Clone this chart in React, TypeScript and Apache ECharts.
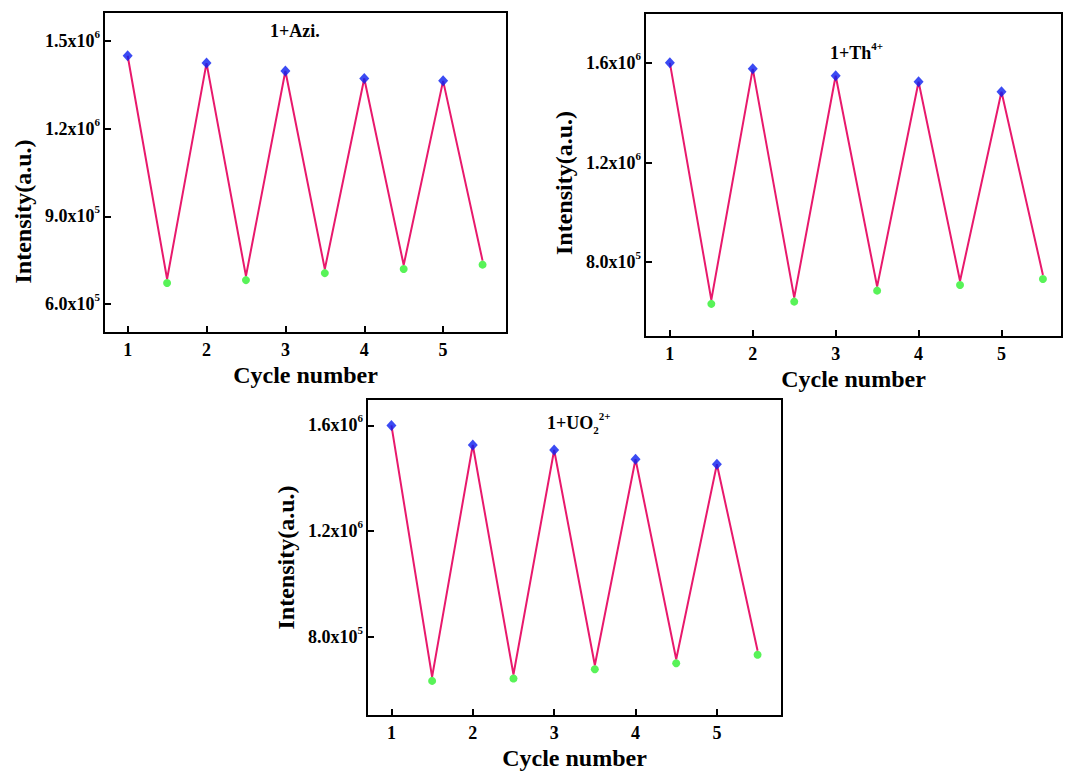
import React, { useEffect, useRef } from "react";
import * as echarts from "echarts";

const peakCycles = [1, 2, 3, 4, 5];
const troughCycles = [1.5, 2.5, 3.5, 4.5, 5.5];
const cycleTicks = [1, 2, 3, 4, 5];

const aziPeaks = [1.45e6, 1.425e6, 1.398e6, 1.372e6, 1.364e6];
const aziTroughs = [6.85e5, 6.95e5, 7.19e5, 7.33e5, 7.48e5];
const aziTicks = [6e5, 9e5, 1.2e6, 1.5e6];

const thPeaks = [1.6e6, 1.576e6, 1.548e6, 1.524e6, 1.484e6];
const thTroughs = [6.49e5, 6.58e5, 7.02e5, 7.25e5, 7.49e5];
const thTicks = [8e5, 1.2e6, 1.6e6];

const uoPeaks = [1.6e6, 1.526e6, 1.507e6, 1.472e6, 1.453e6];
const uoTroughs = [6.48e5, 6.57e5, 6.92e5, 7.15e5, 7.47e5];
const uoTicks = [8e5, 1.2e6, 1.6e6];

const FONT = "'Liberation Serif', 'Times New Roman', serif";
const LINE_COLOR = "#e8196c";
const PEAK_COLOR = "#0a1ef0";
const TROUGH_COLOR = "#2ef02e";

const supRich = {
  a: { fontFamily: FONT, fontWeight: "bold", fontSize: 18, color: "#000" },
  s: { fontFamily: FONT, fontWeight: "bold", fontSize: 11, color: "#000", padding: [0, 0, 14, 0] },
  b: { fontFamily: FONT, fontWeight: "bold", fontSize: 11, color: "#000", padding: [14, 0, 0, 0] },
};

function sciLabel(v: number) {
  const exp = Math.floor(Math.log10(v) + 1e-9);
  const mant = (v / Math.pow(10, exp)).toFixed(1);
  return "{a|" + mant + "x10}{s|" + exp + "}";
}

function interleave(peaks: number[], troughs: number[]) {
  const out: number[][] = [];
  for (let i = 0; i < peaks.length; i++) {
    out.push([peakCycles[i], peaks[i]]);
    out.push([troughCycles[i], troughs[i]]);
  }
  return out;
}

export default function App() {
  const ref = useRef<HTMLDivElement>(null);
  useEffect(() => {
    if (!ref.current) return;
    const chart = echarts.init(ref.current, null, { renderer: "svg" });
    const grids = [
      { left: 104, top: 12, width: 403, height: 321 },
      { left: 645, top: 13, width: 417, height: 324 },
      { left: 367, top: 399, width: 415, height: 320 },
    ];
    const panels = [
      { peaks: aziPeaks, troughs: aziTroughs, ticks: aziTicks, min: 5e5, max: 1.6e6, xmax: 5.81, namePad: [0, 78, 0, 0] },
      { peaks: thPeaks, troughs: thTroughs, ticks: thTicks, min: 5e5, max: 1.8e6, xmax: 5.73, namePad: [0, 16, 0, 0] },
      { peaks: uoPeaks, troughs: uoTroughs, ticks: uoTicks, min: 5e5, max: 1.7e6, xmax: 5.8, namePad: [0, 0, 0, 0] },
    ];
    const xAxes: any[] = [];
    const yAxes: any[] = [];
    const series: any[] = [];
    panels.forEach((p, i) => {
      xAxes.push({
        type: "value",
        gridIndex: i,
        min: 0.7,
        max: p.xmax,
        name: "Cycle number",
        nameLocation: "middle",
        nameGap: 30,
        nameTextStyle: { fontFamily: FONT, fontWeight: "bold", fontSize: 24, color: "#000" },
        axisLine: { show: true, lineStyle: { color: "#000", width: 2 } },
        axisTick: { show: true, inside: true, length: 7, customValues: cycleTicks, lineStyle: { color: "#000", width: 2 } },
        axisLabel: {
          customValues: cycleTicks,
          margin: 8,
          fontFamily: FONT,
          fontWeight: "bold",
          fontSize: 18,
          color: "#000",
        },
        splitLine: { show: false },
      });
      yAxes.push({
        type: "value",
        gridIndex: i,
        min: p.min,
        max: p.max,
        name: "Intensity(a.u.)",
        nameLocation: "middle",
        nameGap: 69,
        nameTextStyle: { fontFamily: FONT, fontWeight: "bold", fontSize: 24, color: "#000", padding: p.namePad },
        axisLine: { show: true, lineStyle: { color: "#000", width: 2 } },
        axisTick: { show: true, inside: true, length: 7, customValues: p.ticks, lineStyle: { color: "#000", width: 2 } },
        axisLabel: {
          customValues: p.ticks,
          margin: 4,
          formatter: (v: number) => sciLabel(v),
          rich: supRich,
        },
        splitLine: { show: false },
      });
      series.push({
        type: "line",
        xAxisIndex: i,
        yAxisIndex: i,
        data: interleave(p.peaks, p.troughs),
        showSymbol: false,
        symbol: "none",
        lineStyle: { color: LINE_COLOR, width: 2 },
        z: 2,
      });
      series.push({
        type: "scatter",
        xAxisIndex: i,
        yAxisIndex: i,
        data: p.peaks.map((v, k) => [peakCycles[k], v]),
        symbol: "diamond",
        symbolSize: [10, 11],
        itemStyle: { color: PEAK_COLOR },
        z: 3,
      });
      series.push({
        type: "scatter",
        xAxisIndex: i,
        yAxisIndex: i,
        data: p.troughs.map((v, k) => [troughCycles[k], v]),
        symbol: "circle",
        symbolSize: 8,
        symbolOffset: [0, 4],
        itemStyle: { color: TROUGH_COLOR },
        z: 3,
      });
    });
    chart.setOption({
      animation: false,
      backgroundColor: "#fff",
      title: [
        { text: "{a|1+Azi.}", left: 270, top: 22, padding: 0, textStyle: { rich: supRich } },
        { text: "{a|1+Th}{s|4+}", left: 830, top: 40, padding: 0, textStyle: { rich: supRich } },
        { text: "{a|1+UO}{b|2}{s|2+}", left: 547, top: 410, padding: 0, textStyle: { rich: supRich } },
      ],
      grid: grids.map((g) => ({ ...g, show: true, borderColor: "#000", borderWidth: 2, containLabel: false })),
      xAxis: xAxes,
      yAxis: yAxes,
      series,
    });
    return () => chart.dispose();
  }, []);
  return (
    <div
      ref={ref}
      style={{ position: "absolute", left: 0, top: 0, width: 1079, height: 771 }}
    />
  );
}
